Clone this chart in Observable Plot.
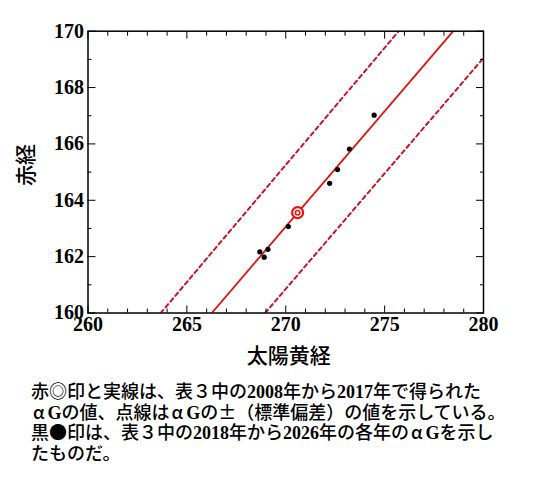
<!DOCTYPE html>
<html>
<head>
<meta charset="utf-8">
<script src="https://cdn.jsdelivr.net/npm/d3@7"></script>
<script src="https://cdn.jsdelivr.net/npm/@observablehq/plot@0.6"></script>
<style>
  body { margin: 0; background: #fff; width: 535px; overflow: hidden; }
  #caption { font-family: "Noto Sans CJK JP", sans-serif; font-size: 18px; line-height: 18.5px; padding: 9px 0 0 31px; white-space: nowrap; color: #000; font-weight: 500; }
  #caption .n { font-family: "Liberation Serif", serif; font-weight: bold; font-size: 18px; }
  #caption .a { padding: 0 3px 0 2px; }
</style>
</head>
<body>
<div id="chart"></div>
<div id="caption">赤◎印と実線は、表３中の<span class="n">2008</span>年から<span class="n">2017</span>年で得られた<br><span class="a">α</span><span class="n">G</span>の値、点線は<span class="a">α</span><span class="n">G</span>の±（標準偏差）の値を示している。<br>黒●印は、表３中の<span class="n">2018</span>年から<span class="n">2026</span>年の各年の<span class="a">α</span><span class="n">G</span>を示し<br>たものだ。</div>
<script>
// Data
const blackLon = [274.47, 273.22, 272.62, 272.22, 270.13, 269.10, 268.69, 268.91];
const blackRA  = [167.02, 165.82, 165.09, 164.60, 163.07, 162.26, 162.17, 161.98];
const redLon = [270.60];
const redRA  = [163.56];
// line endpoints (solid mean line and ± std dashed lines)
const meanLon  = [266.26, 278.47];
const meanRA   = [160, 170];
const upperLon = [263.68, 275.71];
const upperRA  = [160, 170];
const lowerLon = [268.96, 280];
const lowerRA  = [160, 169.05];
// ticks
const xMajor = [260, 265, 270, 275, 280];
const xMinor = d3.range(260, 281, 1).filter(v => v % 5 !== 0);
const yMajor = [160, 162, 164, 166, 168, 170];
const yMinor = [161, 163, 165, 167, 169];
const xLabel = "太陽黄経";
const yLabel = "赤経";

const pts = (xs, ys) => xs.map((x, i) => ({x, y: ys[i]}));
const blank = () => "";
const serif = {fontFamily: "Liberation Serif, serif", fontWeight: "bold", fontSize: 20};

const chart = Plot.plot({
  width: 535,
  height: 372,
  marginLeft: 87.5,
  marginRight: 52,
  marginTop: 30.7,
  marginBottom: 59.5,
  style: {background: "#fff", color: "#000", overflow: "visible"},
  x: {domain: [260, 280]},
  y: {domain: [160, 170]},
  marks: [
    Plot.line(pts(upperLon, upperRA), {x: "x", y: "y", stroke: "#cc1428", strokeWidth: 2, strokeDasharray: "4,3.5", clip: true}),
    Plot.line(pts(lowerLon, lowerRA), {x: "x", y: "y", stroke: "#cc1428", strokeWidth: 2, strokeDasharray: "4,3.5", clip: true}),
    Plot.line(pts(meanLon, meanRA), {x: "x", y: "y", stroke: "#e01414", strokeWidth: 1.8, clip: true}),
    Plot.dot(pts(blackLon, blackRA), {x: "x", y: "y", r: 2.6, fill: "#000"}),
    Plot.dot(pts(redLon, redRA), {x: "x", y: "y", r: 5.5, stroke: "#f01010", strokeWidth: 2.2, fill: "#fff"}),
    Plot.dot(pts(redLon, redRA), {x: "x", y: "y", r: 2.2, stroke: "#f01010", strokeWidth: 1.5, fill: "#fff"}),
    // axes ticks (inward)
    Plot.axisX({anchor: "bottom", ticks: xMajor, tickSize: -7, tickFormat: blank, label: null}),
    Plot.axisX({anchor: "bottom", ticks: xMinor, tickSize: -4, tickFormat: blank, label: null}),
    Plot.axisX({anchor: "top", ticks: xMajor, tickSize: -7, tickFormat: blank, label: null}),
    Plot.axisX({anchor: "top", ticks: xMinor, tickSize: -4, tickFormat: blank, label: null}),
    Plot.axisY({anchor: "left", ticks: yMajor, tickSize: -8, tickFormat: blank, label: null}),
    Plot.axisY({anchor: "left", ticks: yMinor, tickSize: -4, tickFormat: blank, label: null}),
    Plot.axisY({anchor: "right", ticks: yMajor, tickSize: -8, tickFormat: blank, label: null}),
    Plot.axisY({anchor: "right", ticks: yMinor, tickSize: -4, tickFormat: blank, label: null}),
    // tick labels
    Plot.axisX({anchor: "bottom", ticks: xMajor, tickSize: 0, tickPadding: 4, label: null, ...serif}),
    Plot.axisY({anchor: "left", ticks: yMajor, tickSize: 0, tickPadding: 4, label: null, ...serif}),
    Plot.frame({stroke: "#000", strokeWidth: 1.5}),
    Plot.text([xLabel], {frameAnchor: "bottom", dx: 3, dy: 50, fontSize: 21, fontFamily: "Noto Sans CJK JP", fontWeight: 500, fill: "#000"}),
    Plot.text([yLabel], {frameAnchor: "left", rotate: -90, dx: -62, dy: 14, fontSize: 21, fontFamily: "Noto Sans CJK JP", fontWeight: 500, fill: "#000"})
  ]
});
document.getElementById("chart").appendChild(chart);
</script>
</body>
</html>
